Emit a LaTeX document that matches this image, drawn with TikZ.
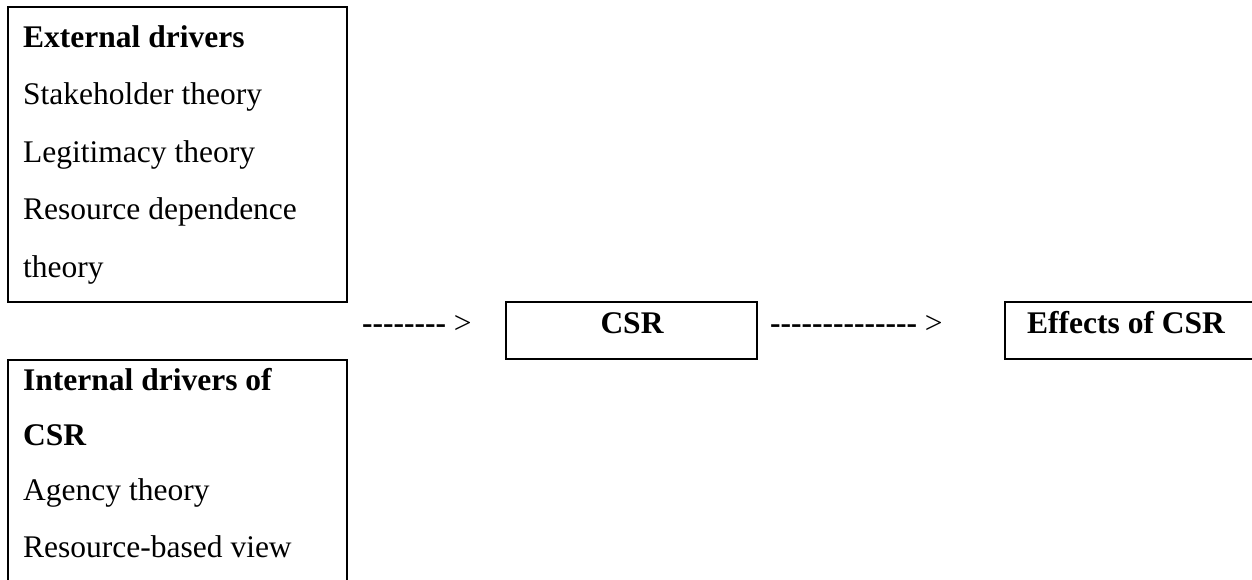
\documentclass[tikz,border=0pt]{standalone}
\usepackage{fontspec}
\setmainfont{Liberation Serif}
\begin{document}
\begin{tikzpicture}[x=1pt,y=-1pt,
  box/.style={draw=black,line width=2pt,inner sep=0pt,outer sep=0pt,anchor=north west},
  txt/.style={inner sep=0pt,anchor=base west,font=\fontsize{31.5}{36}\selectfont},
  hd/.style={inner sep=0pt,anchor=base west,font=\fontsize{31.5}{36}\selectfont\bfseries}]
\useasboundingbox (0,0) rectangle (1252,579);
\clip (0,0) rectangle (1252,579);
% boxes
\node[box,minimum width=339pt,minimum height=295pt] (ext) at (8,7) {};
\node[box,minimum width=339pt,minimum height=260pt] (int) at (8,360) {};
\node[box,minimum width=251pt,minimum height=57pt] (csr) at (506,302) {};
\node[box,minimum width=262pt,minimum height=57pt] (eff) at (1005,302) {};
% external drivers
\node[hd]  (e0) at (23,47)    {External drivers};
\node[txt] (e1) at (23,104.5) {Stakeholder theory};
\node[txt] (e2) at (23,162)   {Legitimacy theory};
\node[txt] (e3) at (23,219.5) {Resource dependence};
\node[txt] (e4) at (23,277)   {theory};
% internal drivers
\node[hd]  (i0) at (23,390) {Internal drivers of};
\node[hd]  (i1) at (23,445) {CSR};
\node[txt] (i2) at (23,500) {Agency theory};
\node[txt] (i3) at (23,557) {Resource-based view};
% middle row
\node[txt] (a1) at (362,333) {\bfseries -{}-{}-{}-{}-{}-{}-{}-\mdseries\ >};
\node[hd,anchor=base] (csrt) at (632,333) {CSR};
\node[txt] (a2) at (770,333) {\bfseries -{}-{}-{}-{}-{}-{}-{}-{}-{}-{}-{}-{}-{}-\mdseries\ >};
\node[hd]  (efft) at (1027,333) {Effects of CSR};
\end{tikzpicture}
\end{document}
